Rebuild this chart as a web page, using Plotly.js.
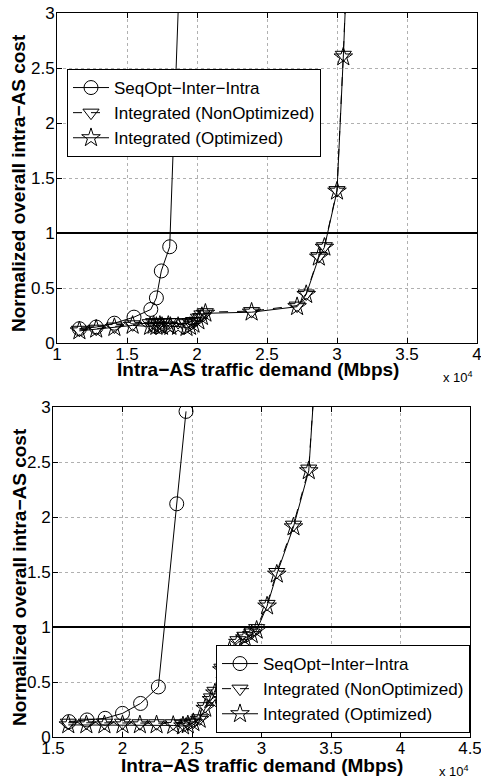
<!DOCTYPE html>
<html>
<head>
<meta charset="utf-8">
<script src="https://cdn.plot.ly/plotly-3.0.1.min.js"></script>
<style>html,body{margin:0;padding:0;background:#fff;}#chart{width:481px;height:778px;}</style>
</head>
<body>
<div id="chart"></div>
<script>
// ---- Data (x in units of 10^4 Mbps) ----
const seriesNames = ["SeqOpt\u2212Inter\u2212Intra", "Integrated (NonOptimized)", "Integrated (Optimized)"];

// Top panel
const seqTopX = [1.16, 1.28, 1.41, 1.55, 1.67, 1.71, 1.745, 1.805, 1.93];
const seqTopY = [0.13, 0.145, 0.18, 0.235, 0.305, 0.41, 0.655, 0.875, 5.3];
const nonOptTopX = [1.16, 1.28, 1.41, 1.54, 1.665, 1.69, 1.71, 1.735, 1.75, 1.795, 1.81, 1.865, 1.925, 1.95, 1.975, 2.01, 2.035, 2.06, 2.39, 2.715, 2.78, 2.87, 2.91, 3.0, 3.045, 3.09];
const nonOptTopY = [0.12, 0.13, 0.15, 0.17, 0.18, 0.19, 0.18, 0.19, 0.185, 0.19, 0.19, 0.19, 0.18, 0.19, 0.2, 0.23, 0.26, 0.28, 0.29, 0.34, 0.45, 0.79, 0.88, 1.39, 2.62, 4.05];
const optTopX = [1.16, 1.28, 1.41, 1.54, 1.665, 1.69, 1.71, 1.735, 1.75, 1.795, 1.81, 1.865, 1.925, 1.95, 1.975, 2.01, 2.035, 2.06, 2.39, 2.715, 2.78, 2.87, 2.91, 3.0, 3.045, 3.09];
const optTopY = [0.11, 0.125, 0.14, 0.16, 0.15, 0.16, 0.15, 0.16, 0.15, 0.16, 0.15, 0.15, 0.14, 0.15, 0.17, 0.2, 0.24, 0.27, 0.28, 0.33, 0.44, 0.78, 0.87, 1.38, 2.6, 4.0];

// Bottom panel
const seqBotX = [1.615, 1.745, 1.875, 2.0, 2.13, 2.258, 2.39, 2.457];
const seqBotY = [0.14, 0.155, 0.17, 0.215, 0.305, 0.455, 2.12, 2.96];
const nonOptBotX = [1.61, 1.74, 1.87, 2.0, 2.125, 2.245, 2.365, 2.435, 2.47, 2.51, 2.555, 2.595, 2.64, 2.665, 2.715, 2.77, 2.83, 2.88, 2.93, 2.965, 3.04, 3.11, 3.23, 3.34, 3.40];
const nonOptBotY = [0.13, 0.13, 0.13, 0.13, 0.125, 0.125, 0.125, 0.12, 0.13, 0.14, 0.17, 0.28, 0.36, 0.42, 0.63, 0.8, 0.88, 0.92, 0.95, 0.99, 1.21, 1.5, 1.93, 2.44, 3.6];
const optBotX = [1.61, 1.74, 1.87, 2.0, 2.125, 2.245, 2.365, 2.435, 2.47, 2.51, 2.555, 2.595, 2.64, 2.665, 2.715, 2.77, 2.83, 2.88, 2.93, 2.965, 3.04, 3.11, 3.23, 3.34, 3.40];
const optBotY = [0.11, 0.11, 0.11, 0.11, 0.11, 0.11, 0.105, 0.1, 0.11, 0.13, 0.16, 0.26, 0.34, 0.4, 0.61, 0.78, 0.86, 0.9, 0.93, 0.97, 1.19, 1.48, 1.91, 2.42, 3.58];

const xTicksTop = [1, 1.5, 2, 2.5, 3, 3.5, 4];
const xTicksBot = [1.5, 2, 2.5, 3, 3.5, 4, 4.5];
const yTicks = [0, 0.5, 1, 1.5, 2, 2.5, 3];
const xTitle = "Intra\u2212AS traffic demand (Mbps)";
const yTitle = "Normalized overall intra\u2212AS cost";
const expLabel = "x 10<sup>4</sup>";
const refLine = 1;

// ---- Traces ----
const FONT = "Liberation Sans, Arial, Helvetica, sans-serif";
function mk(x, y, name, sym, dash, xa, ya, leg) {
  return {
    x: x, y: y, name: name, type: 'scatter', mode: 'lines+markers',
    xaxis: xa, yaxis: ya, legend: leg, showlegend: true,
    line: {color: 'black', width: 1, dash: dash},
    marker: {symbol: sym, size: 14, color: 'black', line: {color: 'black', width: 1}},
    cliponaxis: true
  };
}
const data = [
  mk(seqTopX, seqTopY, seriesNames[0], 'circle-open', 'solid', 'x', 'y', 'legend'),
  mk(nonOptTopX, nonOptTopY, seriesNames[1], 'triangle-down-open', 'dash', 'x', 'y', 'legend'),
  mk(optTopX, optTopY, seriesNames[2], 'star-open', 'solid', 'x', 'y', 'legend'),
  mk(seqBotX, seqBotY, seriesNames[0], 'circle-open', 'solid', 'x2', 'y2', 'legend2'),
  mk(nonOptBotX, nonOptBotY, seriesNames[1], 'triangle-down-open', 'dash', 'x2', 'y2', 'legend2'),
  mk(optBotX, optBotY, seriesNames[2], 'star-open', 'solid', 'x2', 'y2', 'legend2')
];

const TICKFONT = {family: FONT, size: 17, color: 'black'};
const TITLEFONT = {family: FONT, size: 19, color: 'black', weight: 'bold'};
function xax(domain, ticks, anchor) {
  return {
    domain: domain, anchor: anchor, range: [ticks[0], ticks[ticks.length-1]],
    tickvals: ticks, ticks: 'inside', ticklen: 5, tickcolor: 'black',
    showline: true, linecolor: 'black', linewidth: 1, mirror: 'ticks',
    showgrid: true, gridcolor: '#b0b0b0', griddash: 'dot', gridwidth: 1, zeroline: false,
    tickfont: TICKFONT, ticklabeloverflow: 'allow', ticklabelstandoff: -4
  };
}
function yax(domain, anchor) {
  return {
    domain: domain, anchor: anchor, range: [0, 3],
    tickvals: yTicks, ticks: 'inside', ticklen: 5, tickcolor: 'black',
    showline: true, linecolor: 'black', linewidth: 1, mirror: 'ticks',
    showgrid: true, gridcolor: '#b0b0b0', griddash: 'dot', gridwidth: 1, zeroline: false,
    tickfont: TICKFONT, ticklabeloverflow: 'allow', ticklabelstandoff: -2
  };
}

const W = 481, H = 778;
const LEGFONT = {family: FONT, size: 17, color: 'black'};
const layout = {
  width: W, height: H,
  margin: {l: 0, r: 0, t: 0, b: 0},
  paper_bgcolor: 'white', plot_bgcolor: 'white',
  font: {family: FONT, color: 'black'},
  xaxis: xax([57/W, 477/W], xTicksTop, 'y'),
  yaxis: yax([1-343/H, 1-13/H], 'x'),
  xaxis2: xax([53/W, 470/W], xTicksBot, 'y2'),
  yaxis2: yax([1-737/H, 1-407/H], 'x2'),
  legend: {
    x: 67/W, y: 1-69/H, xanchor: 'left', yanchor: 'top',
    bgcolor: 'white', bordercolor: 'black', borderwidth: 1,
    font: LEGFONT, tracegroupgap: 0, itemwidth: 36
  },
  legend2: {
    x: 470/W, y: 1-733/H, xanchor: 'right', yanchor: 'bottom',
    bgcolor: 'white', bordercolor: 'black', borderwidth: 1,
    font: LEGFONT, tracegroupgap: 0, itemwidth: 36
  },
  shapes: [
    {type: 'line', xref: 'x domain', yref: 'y', x0: 0, x1: 1, y0: refLine, y1: refLine, line: {color: 'black', width: 2}},
    {type: 'line', xref: 'x2 domain', yref: 'y2', x0: 0, x1: 1, y0: refLine, y1: refLine, line: {color: 'black', width: 2}}
  ],
  annotations: [
    {xref: 'paper', yref: 'paper', x: 258/W, y: 1-370/H, xanchor: 'center', yanchor: 'middle', showarrow: false,
     text: xTitle, font: TITLEFONT},
    {xref: 'paper', yref: 'paper', x: 262/W, y: 1-765/H, xanchor: 'center', yanchor: 'middle', showarrow: false,
     text: xTitle, font: TITLEFONT},
    {xref: 'paper', yref: 'paper', x: 19/W, y: 1-183/H, xanchor: 'center', yanchor: 'middle', showarrow: false,
     textangle: -90, text: yTitle, font: TITLEFONT},
    {xref: 'paper', yref: 'paper', x: 19/W, y: 1-577/H, xanchor: 'center', yanchor: 'middle', showarrow: false,
     textangle: -90, text: yTitle, font: TITLEFONT},
    {xref: 'paper', yref: 'paper', x: 475/W, y: 1-377/H, xanchor: 'right', yanchor: 'middle', showarrow: false,
     text: expLabel, font: {family: FONT, size: 13, color: 'black'}},
    {xref: 'paper', yref: 'paper', x: 471/W, y: 1-771/H, xanchor: 'right', yanchor: 'middle', showarrow: false,
     text: expLabel, font: {family: FONT, size: 13, color: 'black'}}
  ]
};

Plotly.newPlot('chart', data, layout, {displayModeBar: false, staticPlot: true});
</script>
</body>
</html>
